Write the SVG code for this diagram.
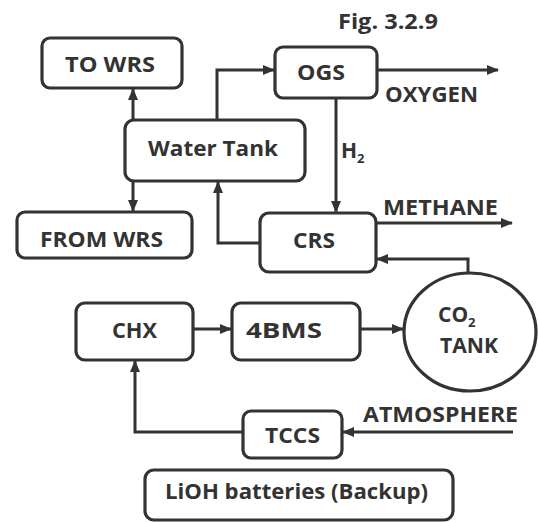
<svg xmlns="http://www.w3.org/2000/svg" width="538" height="522" viewBox="0 0 538 522">
<defs>
<marker id="ah" viewBox="0 0 12 10" refX="11" refY="5" markerWidth="12" markerHeight="10" markerUnits="userSpaceOnUse" orient="auto">
<path d="M0,0 L12,5 L0,10 Z" fill="#333"/>
</marker>
</defs>
<style>
.box{fill:#fff;stroke:#333;stroke-width:3.2}
.c{fill:none;stroke:#333;stroke-width:3;marker-end:url(#ah)}
text{font-family:"Open Sans","Liberation Sans",sans-serif;font-weight:bold;font-size:21px;fill:#333}
.s{font-size:13px}
</style>
<rect width="538" height="522" fill="#fff"/>
<g id="connectors">
<path class="c" d="M133,120 V89"/>
<path class="c" d="M133,181 V211"/>
<path class="c" d="M217,120 V70 H274"/>
<path class="c" d="M377,70 H498"/>
<path class="c" d="M336,98 V212"/>
<path class="c" d="M376,223 H512"/>
<path class="c" d="M468,273 V259 H377"/>
<path class="c" d="M260,243 H218 V182"/>
<path class="c" d="M193,329 H231"/>
<path class="c" d="M360,329 H403"/>
<path class="c" d="M513,432 H343"/>
<path class="c" d="M243,432 H135 V361"/>
</g>
<text x="338" y="29" textLength="100" lengthAdjust="spacingAndGlyphs">Fig. 3.2.9</text>
<g id="towrs"><rect class="box" x="42" y="38" width="140" height="50" rx="8"/><text x="65" y="72" textLength="90" lengthAdjust="spacingAndGlyphs">TO WRS</text></g>
<g id="watertank"><rect class="box" x="125" y="120" width="180" height="61" rx="9"/><text x="148" y="156" textLength="130" lengthAdjust="spacingAndGlyphs" style="font-size:22px">Water Tank</text></g>
<g id="fromwrs"><rect class="box" x="17" y="212" width="175" height="46" rx="8"/><text x="40" y="247" textLength="123" lengthAdjust="spacingAndGlyphs">FROM WRS</text></g>
<g id="ogs"><rect class="box" x="275" y="47" width="102" height="51" rx="8"/><text x="297" y="80" textLength="48" lengthAdjust="spacingAndGlyphs">OGS</text></g>
<g id="crs"><rect class="box" x="260" y="213" width="116" height="59" rx="9"/><text x="293" y="248" textLength="42" lengthAdjust="spacingAndGlyphs">CRS</text></g>
<g id="chx"><rect class="box" x="76" y="303" width="117" height="57" rx="9"/><text x="112" y="338" textLength="45" lengthAdjust="spacingAndGlyphs">CHX</text></g>
<g id="4bms"><rect class="box" x="232" y="303" width="128" height="57" rx="9"/><text x="246" y="338" textLength="76" lengthAdjust="spacingAndGlyphs">4BMS</text></g>
<g id="tccs"><rect class="box" x="243" y="411" width="99" height="47" rx="8"/><text x="265" y="443" textLength="55" lengthAdjust="spacingAndGlyphs">TCCS</text></g>
<g id="co2tank"><ellipse class="box" cx="470" cy="332" rx="66" ry="59"/><text x="438" y="322">CO<tspan class="s" dy="5">2</tspan></text><text x="440" y="353" textLength="58" lengthAdjust="spacingAndGlyphs">TANK</text></g>
<g id="lioh"><rect class="box" x="145" y="470" width="308" height="50" rx="9"/><text x="165" y="499" textLength="263" lengthAdjust="spacingAndGlyphs" style="font-size:22px">LiOH batteries (Backup)</text></g>
<g id="labels">
<text x="385" y="102" textLength="93" lengthAdjust="spacingAndGlyphs">OXYGEN</text>
<text x="341" y="158">H<tspan class="s" dy="5">2</tspan></text>
<text x="383" y="215" textLength="115" lengthAdjust="spacingAndGlyphs">METHANE</text>
<text x="363" y="422" textLength="155" lengthAdjust="spacingAndGlyphs">ATMOSPHERE</text>
</g>
</svg>
